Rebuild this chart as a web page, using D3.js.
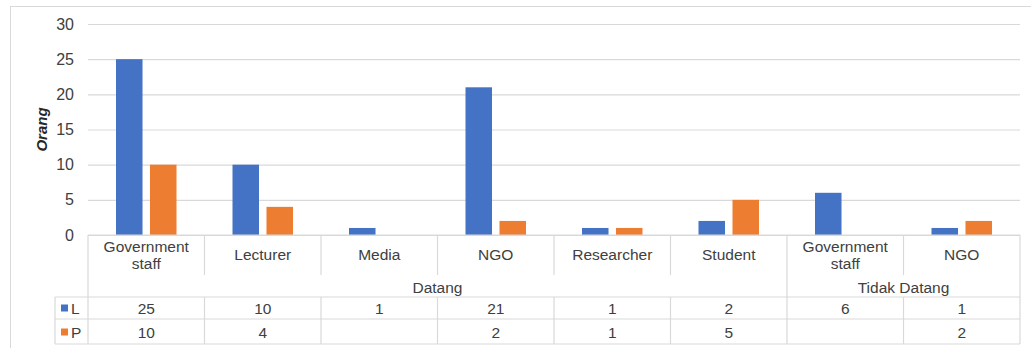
<!DOCTYPE html>
<html>
<head>
<meta charset="utf-8">
<script src="https://cdn.jsdelivr.net/npm/d3@7"></script>
<style>
  html, body { margin: 0; padding: 0; background: #fff; }
  svg { display: block; }
  text { font-family: "Liberation Sans", Arial, sans-serif; fill: #404040; }
</style>
</head>
<body>
<svg id="chart" width="1031" height="348"></svg>
<script>
// Participants by occupation, attendance (Datang / Tidak Datang) and sex (L / P)
const groups = ["Datang", "Tidak Datang"];
const categories = [
  ["Government", "staff"], ["Lecturer"], ["Media"], ["NGO"],
  ["Researcher"], ["Student"], ["Government", "staff"], ["NGO"]
];
const categoryGroup = [0, 0, 0, 0, 0, 0, 1, 1];
const seriesNames = ["L", "P"];
const valuesL = [25, 10, 1, 21, 1, 2, 6, 1];
const valuesP = [10, 4, null, 2, 1, 5, null, 2];
const yTicks = [0, 5, 10, 15, 20, 25, 30];
const yTitle = "Orang";
const colors = ["#4472C4", "#ED7D31"];

const series = [valuesL, valuesP];
const svg = d3.select("#chart");

const plot = { left: 88, right: 1020, top: 24, bottom: 235 };
const tableLeft = 55;
const rowLines = [297, 319, 344];   // bottom of header, L row, P row
const gridColor = "#d9d9d9";

// outer chart frame
svg.append("rect")
  .attr("x", 10.5).attr("y", 6.5)
  .attr("width", 1030).attr("height", 360)
  .attr("fill", "#fff").attr("stroke", "#d9d9d9");

const idx = d3.range(categories.length);
const x0 = d3.scaleBand().domain(idx).range([plot.left, plot.right]).padding(0);
const x1 = d3.scaleBand().domain(seriesNames).range([28, x0.bandwidth() - 28]).paddingInner(0.22);
const y = d3.scaleLinear().domain([0, 30]).range([plot.bottom, plot.top]);

// horizontal gridlines and value axis
const yAxis = d3.axisLeft(y).tickValues(yTicks).tickSize(-(plot.right - plot.left)).tickPadding(14);
const gy = svg.append("g").attr("transform", `translate(${plot.left},0)`).call(yAxis);
gy.select(".domain").remove();
gy.selectAll(".tick line").attr("stroke", gridColor).attr("stroke-width", 1.2);
gy.selectAll(".tick text")
  .style("font-size", "16px").style("fill", "#404040")
  .style("font-family", "'Liberation Sans', Arial, sans-serif");

svg.append("text")
  .attr("transform", `translate(47,${(plot.top + plot.bottom) / 2}) rotate(-90)`)
  .attr("text-anchor", "middle")
  .style("font-size", "15px").style("font-weight", "bold").style("font-style", "italic")
  .style("fill", "#262626")
  .text(yTitle);

// bars
series.forEach((vals, s) => {
  svg.append("g").selectAll("rect")
    .data(idx.filter(i => vals[i] != null))
    .join("rect")
    .attr("x", i => x0(i) + x1(seriesNames[s]))
    .attr("width", x1.bandwidth())
    .attr("y", i => y(vals[i]))
    .attr("height", i => y(0) - y(vals[i]))
    .attr("fill", colors[s]);
});

// data table lines
const lines = svg.append("g").attr("stroke", gridColor).attr("stroke-width", 1.2);
const hLine = (xa, xb, yy) => lines.append("line").attr("x1", xa).attr("x2", xb).attr("y1", yy).attr("y2", yy);
const vLine = (xx, ya, yb) => lines.append("line").attr("x1", xx).attr("x2", xx).attr("y1", ya).attr("y2", yb);

hLine(plot.left, plot.right, plot.bottom);
rowLines.forEach(r => hLine(tableLeft, plot.right, r));
vLine(tableLeft, rowLines[0], rowLines[2]);

idx.forEach(i => {
  const xs = x0(i);
  const groupStart = i === 0 || categoryGroup[i] !== categoryGroup[i - 1];
  vLine(xs, plot.bottom, groupStart ? rowLines[2] : 275);
  if (!groupStart) vLine(xs, rowLines[0], rowLines[2]);
});
vLine(plot.right, plot.bottom, rowLines[2]);

// category labels
const cat = svg.append("g").style("font-size", "15.5px").attr("text-anchor", "middle");
idx.forEach(i => {
  const cx = x0(i) + x0.bandwidth() / 2;
  const lines2 = categories[i];
  const y0 = lines2.length === 1 ? 260 : 252;
  lines2.forEach((t, k) => {
    cat.append("text").attr("x", cx).attr("y", y0 + k * 16.5).text(t);
  });
});

// group labels
groups.forEach((g, gi) => {
  const members = idx.filter(i => categoryGroup[i] === gi);
  const xa = x0(members[0]);
  const xb = x0(members[members.length - 1]) + x0.bandwidth();
  svg.append("text")
    .attr("x", (xa + xb) / 2).attr("y", 293)
    .attr("text-anchor", "middle").style("font-size", "15.5px")
    .text(g);
});

// table rows with legend keys
const rowCenters = [308, 332];
series.forEach((vals, s) => {
  const yc = rowCenters[s];
  svg.append("rect").attr("x", 61).attr("y", yc - 3.5).attr("width", 7).attr("height", 7).attr("fill", colors[s]);
  svg.append("text").attr("x", 71).attr("y", yc + 5.5).style("font-size", "15.5px").text(seriesNames[s]);
  idx.forEach(i => {
    if (vals[i] == null) return;
    svg.append("text")
      .attr("x", x0(i) + x0.bandwidth() / 2).attr("y", yc + 5.5)
      .attr("text-anchor", "middle").style("font-size", "15.5px")
      .text(vals[i]);
  });
});
</script>
</body>
</html>
